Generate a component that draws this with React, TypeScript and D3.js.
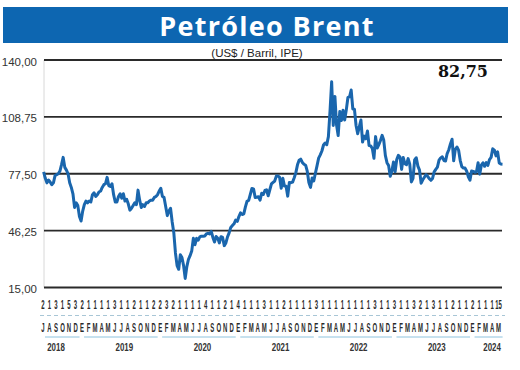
import React from "react";
import * as d3 from "d3";

// weekly Brent closes, 4 per month (2018 starts in July, 2024 ends mid May)
const brent2018 = [
  78.5, 75, 72.5, 74, 73, 71.5, 72.5, 76.5, 77, 77.5, 79, 82.5,
  86.5, 81, 79.5, 77.5, 72.5, 70, 66.5, 59, 61.5, 60, 54, 51.5,
];
const brent2019 = [
  57, 60.5, 62.5, 61.5, 62.5, 62, 66, 67, 65, 66, 67.5, 68,
  70, 71.5, 72, 75.5, 71, 70.5, 72, 66, 62, 62, 65, 66.5,
  64, 66.5, 62.5, 63.5, 61, 57.5, 58.5, 60, 61.5, 60.5, 68.5, 63,
  59, 60.5, 59.5, 61.5, 61.5, 62.5, 63, 63, 64.5, 65, 66, 68,
];
const brent2020 = [
  69.5, 65, 64.5, 59.5, 54.5, 57, 58.5, 51, 45, 34, 27, 25,
  33, 31.5, 27, 20, 26.5, 30.5, 32.5, 35, 42, 38.5, 42, 41,
  42.8, 43.2, 43.1, 43.3, 44.4, 44.8, 44.4, 45.8, 42.5, 40, 43, 42,
  39.5, 42.9, 42.5, 38, 39.5, 42.8, 45, 48, 49, 50, 52, 51.3,
];
const brent2021 = [
  54, 56, 55.1, 55.5, 59.3, 62.4, 62.9, 66.1, 69.4, 69.2, 64.5, 64.6,
  64.9, 63, 66.8, 66.1, 68.3, 68.7, 65.4, 68.7, 71.9, 72.7, 73.5, 76.2,
  76.2, 75.6, 69.5, 75, 70.7, 70.6, 65.2, 72.7, 72.6, 72.9, 75.3, 78.1,
  82.4, 84.9, 85.5, 83.7, 82.7, 82.2, 78.9, 72.7, 70, 75.2, 73.5, 77.8,
];
const brent2022 = [
  81.8, 86.1, 87.9, 90, 93.3, 94.4, 93.5, 97.9, 112, 128, 104, 120,
  104.4, 98.5, 111.7, 106.7, 112.4, 107, 112.6, 119.4, 119.7, 123.5, 113.1, 113,
  104, 99.5, 103.2, 107, 94.9, 98.2, 96.7, 101, 93, 92.8, 91.4, 86,
  97.9, 91.6, 93.5, 95.8, 98.6, 96, 87.6, 83.6, 82, 76.1, 79, 84,
];
const brent2023 = [
  78.6, 85.3, 87.6, 86.7, 79.9, 86.4, 83, 82.5, 85.8, 82.8, 73, 75,
  85.1, 86.3, 81.7, 79.5, 72.3, 74.2, 75.6, 77, 76.1, 74.8, 73.9, 74.9,
  78.5, 79.9, 81.1, 85, 86.2, 86.8, 84.8, 84.5, 88.6, 90.7, 93.9, 96.5,
  84.6, 90.9, 92.2, 90.5, 84.9, 81.4, 80.6, 80.6, 78.9, 75.8, 74, 79,
];
const brent2024 = [
  78.8, 78.3, 78.6, 83.6, 77.3, 82.2, 83.5, 81.6, 83.6, 82.1, 85.3, 86.5,
  91.2, 90.5, 87.3, 89.5, 83.4, 82.8, 82.75,
];

const years = ["2018", "2019", "2020", "2021", "2022", "2023", "2024"];
const seriesByYear = [brent2018, brent2019, brent2020, brent2021, brent2022, brent2023, brent2024];

const yTicks = [15, 46.25, 77.5, 108.75, 140];

const dayLabels = [
  "2", "1", "3", "1", "5", "3",
  "2", "1", "1", "1", "1", "3", "1", "1", "2", "1", "1", "2",
  "2", "3", "2", "1", "1", "1", "1", "4", "1", "1", "2", "1",
  "4", "1", "1", "1", "3", "1", "1", "2", "1", "1", "1", "1",
  "3", "1", "1", "1", "1", "1", "1", "1", "1", "3", "1", "1",
  "3", "1", "1", "3", "2", "1", "3", "1", "1", "2", "1", "1",
  "2", "1", "1", "1", "15",
];
const monthLabels = [
  "J", "A", "S", "O", "N", "D",
  ...d3.range(5).flatMap(() => ["E", "F", "M", "A", "M", "J", "J", "A", "S", "O", "N", "D"]),
  "E", "F", "M", "A", "M",
];

const title = "Petróleo Brent";
const subtitle = "(US$ / Barril, IPE)";
const lastValue = "82,75";

const W = 520;
const H = 370;

const fmt = (v: number) => d3.format(".2f")(v).replace(".", ",");

export default function App() {
  const x = d3.scaleLinear().domain([0, 70.6]).range([43, 502.5]);
  const y = d3.scaleLinear().domain([15, 140]).range([287.5, 60]);

  // turn the weekly arrays into (month position, value) points
  const points: [number, number][] = [];
  const spans: { year: string; from: number; to: number }[] = [];
  let offset = 0;
  seriesByYear.forEach((vals, yi) => {
    vals.forEach((v, i) => {
      points.push([offset + Math.floor(i / 4) + 0.1 + (i % 4) * 0.25, v]);
    });
    const n = Math.ceil(vals.length / 4);
    spans.push({ year: years[yi], from: offset, to: offset + n - 1 });
    offset += n;
  });

  const line = d3
    .line<[number, number]>()
    .x((d) => x(d[0]))
    .y((d) => y(d[1]));

  const narrow = "'Liberation Sans', Arial, sans-serif";

  return (
    <svg
      width={W}
      height={H}
      style={{ position: "absolute", left: 0, top: 0, background: "#fff" }}
    >
      <rect x={3} y={7} width={505} height={36} fill="#0d66b1" />
      <text
        x={267}
        y={36}
        textAnchor="middle"
        fill="#fff"
        fontFamily="'Open Sans', sans-serif"
        fontWeight="bold"
        fontSize={27}
        letterSpacing={1.3}
      >
        {title}
      </text>
      <text x={257} y={57} textAnchor="middle" fill="#222" fontFamily={narrow} fontSize={11.5}>
        {subtitle}
      </text>

      <line x1={44} x2={44} y1={y(140)} y2={y(15)} stroke="#d8d8d8" strokeWidth={1} />
      {yTicks.map((t) => (
        <g key={t}>
          <line x1={44} x2={502} y1={y(t)} y2={y(t)} stroke="#2a2a2a" strokeWidth={1.8} />
          <text x={37} y={y(t) + 5.5} textAnchor="end" fill="#333" fontFamily={narrow} fontSize={11.5}>
            {fmt(t)}
          </text>
        </g>
      ))}

      <path
        d={line(points) || ""}
        fill="none"
        stroke="#1a66ad"
        strokeWidth={3}
        strokeLinejoin="round"
      />

      <text
        x={488}
        y={77}
        textAnchor="end"
        fill="#111"
        fontFamily="'DejaVu Serif', serif"
        fontWeight="bold"
        fontSize={16}
      >
        {lastValue}
      </text>

      {dayLabels.map((d, i) => (
        <text
          key={"d" + i}
          transform={`translate(${x(i)},308.5) scale(0.5,1)`}
          textAnchor="middle"
          fill="#2a2a2a"
          fontFamily={narrow}
          fontWeight="bold"
          fontSize={12}
        >
          {d}
        </text>
      ))}
      <line x1={40} x2={505} y1={315.5} y2={315.5} stroke="#a8c6d6" strokeDasharray="4 3" />
      {monthLabels.map((m, i) => (
        <text
          key={"m" + i}
          transform={`translate(${x(i)},332) scale(0.5,1)`}
          textAnchor="middle"
          fill="#2a2a2a"
          fontFamily={narrow}
          fontWeight="bold"
          fontSize={12}
        >
          {m}
        </text>
      ))}

      {spans.map((s, i) => {
        const mid = (s.from + s.to) / 2 + (i === 0 ? -0.5 : 1);
        return (
          <g key={s.year}>
            <line
              x1={x(s.from) + 2}
              x2={x(s.to) + 4}
              y1={337}
              y2={337}
              stroke="#8ec3de"
              strokeWidth={1}
            />
            <text
              transform={`translate(${x(mid)},350.5) scale(0.72,1)`}
              textAnchor="middle"
              fill="#333"
              fontFamily={narrow}
              fontWeight="bold"
              fontSize={11}
            >
              {s.year}
            </text>
          </g>
        );
      })}
    </svg>
  );
}
